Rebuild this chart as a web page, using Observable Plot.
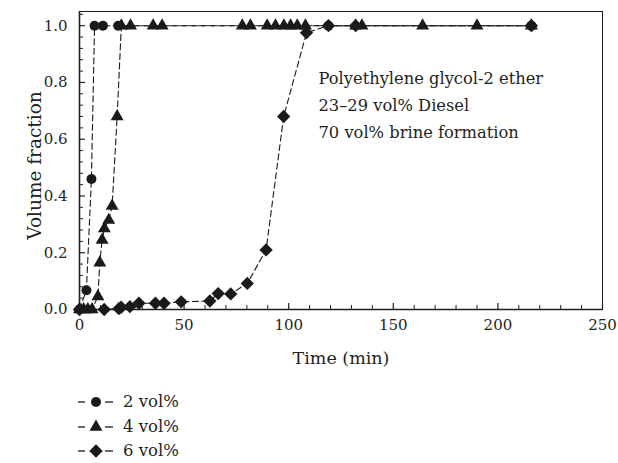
<!DOCTYPE html>
<html><head><meta charset="utf-8">
<script src="https://cdn.jsdelivr.net/npm/d3@7"></script>
<script src="https://cdn.jsdelivr.net/npm/@observablehq/plot@0.6"></script>
<style>
body{margin:0;background:#fff;font-family:"DejaVu Serif",serif;color:#231f20}
#legend{position:relative;width:618px;height:91px}
.row{position:absolute;left:76px;height:18px;display:flex;align-items:center;font-size:16.5px;line-height:18px}
.row svg{margin-right:7px}
</style></head><body>
<div id="chart"></div>
<div id="legend"></div>
<script>
// ---- data ----
const seriesNames = ["2 vol%", "4 vol%", "6 vol%"];
const seriesSymbols = ["circle", "triangle", "diamond2"];

const time2 = [0, 3.3, 5.7, 7.2, 11.2, 18.5, 119, 216];
const frac2 = [0, 0.068, 0.46, 1, 1, 1, 1, 1];

const time4 = [0, 2, 4, 6, 8.8, 9.7, 10.8, 11.9, 14.0, 15.6, 18.0, 20, 24.4, 35.2, 39.5, 77.8, 81.7, 89.7, 93.7, 97.7, 100.9, 104.1, 108, 132, 135, 164, 190, 216];
const frac4 = [0, 0, 0, 0, 0.046, 0.165, 0.245, 0.285, 0.315, 0.365, 0.68, 1, 1, 1, 1, 1, 1, 1, 1, 1, 1, 1, 1, 1, 1, 1, 1, 1];

const time6 = [0, 11.8, 18.8, 19.9, 24.1, 28.4, 36.3, 40.4, 48.6, 62.3, 66.3, 72.3, 80.2, 89.2, 97.6, 108.5, 119, 132, 216];
const frac6 = [0, 0, 0.003, 0.008, 0.01, 0.022, 0.022, 0.022, 0.027, 0.03, 0.056, 0.055, 0.092, 0.21, 0.68, 0.975, 1, 1, 1];

const xTicks = [0, 50, 100, 150, 200, 250];
const xMinorTicks = [10, 20, 30, 40, 60, 70, 80, 90, 110, 120, 130, 140, 160, 170, 180, 190, 210, 220, 230, 240];
const yTicks = [0, 0.2, 0.4, 0.6, 0.8, 1.0];
const yMinorTicks = [0.04, 0.08, 0.12, 0.16, 0.24, 0.28, 0.32, 0.36, 0.44, 0.48, 0.52, 0.56, 0.64, 0.68, 0.72, 0.76, 0.84, 0.88, 0.92, 0.96, 1.04];

const xLabel = "Time (min)";
const yLabel = "Volume fraction";
const noteLines = ["Polyethylene glycol-2 ether", "23–29 vol% Diesel", "70 vol% brine formation"];

// ---- build table ----
const times = [time2, time4, time6];
const fracs = [frac2, frac4, frac6];
const rows = [];
seriesNames.forEach((s, i) => times[i].forEach((t, j) => rows.push({series: s, t, v: fracs[i][j]})));

const ink = "#1a1a1a";
const axisInk = "#231f20";
const serif = "DejaVu Serif";
const radii = {"circle": 5, "triangle": 4.8, "diamond2": 6};

const W = 618, H = 372, mL = 79, mR = 16, mT = 11, mB = 63;
const frameW = W - mL - mR, frameH = H - mT - mB;

const dotMarks = [2, 1, 0].map(i => Plot.dot(rows.filter(d => d.series === seriesNames[i]), {
  x: "t", y: "v", symbol: () => seriesSymbols[i], fill: ink, stroke: "none", r: radii[seriesSymbols[i]]
}));

const chart = Plot.plot({
  width: W, height: H,
  marginLeft: mL, marginRight: mR, marginTop: mT, marginBottom: mB,
  style: {fontFamily: serif, color: axisInk, background: "#fff", overflow: "visible"},
  x: {domain: [0, 250], label: null},
  y: {domain: [0, 1.05], label: null},
  symbol: {domain: seriesSymbols, range: seriesSymbols},
  marks: [
    Plot.frame({stroke: axisInk, strokeWidth: 1}),
    Plot.ruleX(xMinorTicks, {x: d => d, insetTop: frameH - 4, stroke: axisInk, strokeWidth: 1}),
    Plot.ruleX(xTicks, {x: d => d, insetTop: frameH - 6, stroke: axisInk, strokeWidth: 1.2}),
    Plot.ruleY(yMinorTicks, {y: d => d, insetRight: frameW - 4, stroke: axisInk, strokeWidth: 1}),
    Plot.ruleY(yTicks, {y: d => d, insetRight: frameW - 6, stroke: axisInk, strokeWidth: 1.2}),
    Plot.ruleY([0], {stroke: axisInk, strokeWidth: 1.6}),
    Plot.ruleX([0], {stroke: axisInk, strokeWidth: 1.6}),
    Plot.axisX(xTicks, {tickSize: 0, tickPadding: 10, fontSize: 15, label: null, fill: axisInk}),
    Plot.axisY(yTicks, {tickSize: 0, tickPadding: 12, fontSize: 15, tickFormat: d3.format(".1f"), label: null, fill: axisInk}),
    Plot.line(rows, {x: "t", y: "v", z: "series", stroke: ink, strokeWidth: 1.1, strokeDasharray: "6,3.5"}),
    ...dotMarks,
    Plot.text([noteLines.join("\n")], {text: d => d, frameAnchor: "top-left", dx: 239, dy: 54, lineAnchor: "top", textAnchor: "start", fontSize: 16.3, lineHeight: 1.63, fill: axisInk}),
    Plot.text([yLabel], {text: d => d, frameAnchor: "left", rotate: -90, dx: -39, dy: 5, lineAnchor: "bottom", textAnchor: "middle", fontSize: 18.5, fill: axisInk}),
    Plot.text([xLabel], {text: d => d, frameAnchor: "bottom", dy: 54, lineAnchor: "bottom", textAnchor: "middle", fontSize: 17.5, fill: axisInk})
  ]
});
document.getElementById("chart").appendChild(chart);

// ---- legend below the chart ----
const symMap = {circle: d3.symbolCircle, triangle: d3.symbolTriangle, diamond2: d3.symbolDiamond2};
const legend = d3.select("#legend");
const legendTops = [21, 46, 70];
seriesNames.forEach((name, i) => {
  const row = legend.append("div").attr("class", "row").style("top", legendTops[i] + "px");
  const svg = row.append("svg").attr("width", 40).attr("height", 18).style("overflow", "visible");
  svg.append("line").attr("x1", 2).attr("x2", 9).attr("y1", 9).attr("y2", 9).attr("stroke", ink).attr("stroke-width", 1.3);
  svg.append("line").attr("x1", 29).attr("x2", 37).attr("y1", 9).attr("y2", 9).attr("stroke", ink).attr("stroke-width", 1.3);
  const r = radii[seriesSymbols[i]];
  svg.append("path").attr("transform", "translate(20,9)")
    .attr("d", d3.symbol(symMap[seriesSymbols[i]], Math.PI * r * r)()).attr("fill", ink);
  row.append("span").text(name);
});
</script>
</body></html>
